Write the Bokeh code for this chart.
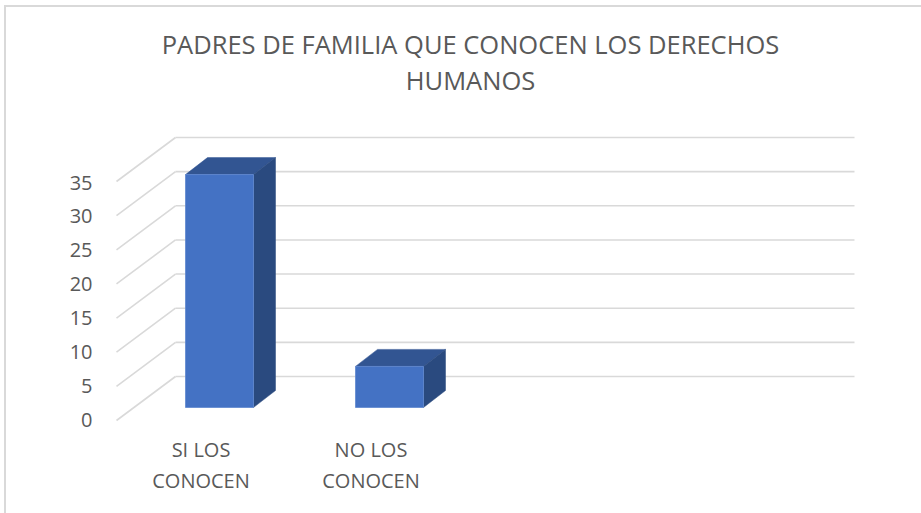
from bokeh.embed import file_html
from bokeh.resources import INLINE
from bokeh.plotting import figure
from bokeh.models import Range1d, LinearAxis, FixedTicker
from bokeh.core.properties import value

title_lines = ["PADRES DE FAMILIA QUE CONOCEN LOS DERECHOS", "HUMANOS"]
categories = ["SI LOS\nCONOCEN", "NO LOS\nCONOCEN"]
counts = [34, 6]
ticks = [0, 5, 10, 15, 20, 25, 30, 35]

W, H = 921, 513
LEFT = 100
SLOT = 170.0      # px per category
UNIT = 6.85       # px per value, bars and wall
X0 = 219.0        # px of the first bar's centre
Y0 = 407.0        # px of the bars' baseline

GRID, TEXT = "#D9D9D9", "#595959"
FRONT, TOP, SIDE = "#4472C4", "#325592", "#2A4A7F"
FONT = value("Open Sans")

def dx(px):
    return px / SLOT

def dy(px):
    return px / UNIT

p = figure(width=W, height=H, output_backend="svg", toolbar_location=None,
           x_range=Range1d((LEFT - X0) / SLOT, (W - X0) / SLOT),
           y_range=Range1d((Y0 - H) / UNIT, Y0 / UNIT),
           min_border_left=LEFT, min_border_right=0, min_border_top=0, min_border_bottom=0,
           x_axis_location=None, y_axis_location=None,
           outline_line_color=None, background_fill_color=None, border_fill_color=None)
p.xgrid.visible = False
p.ygrid.visible = False
# sits on the page's corner; the chart area's border is painted behind the canvas
p.styles = {
    "position": "absolute", "left": "0px", "top": "0px",
    "background": f"linear-gradient({GRID},{GRID}) 4px 5px/2px 100% no-repeat, "
                  f"linear-gradient({GRID},{GRID}) 4px 5px/100% 2px no-repeat",
}

# value axis on the front plane of the 3D box
p.extra_y_ranges["axis"] = Range1d((419 - H) / 6.77, 419 / 6.77)
axis = LinearAxis(y_range_name="axis", ticker=FixedTicker(ticks=ticks),
                  axis_line_color=None, major_tick_line_color=None, minor_tick_line_color=None,
                  major_label_text_font="Open Sans", major_label_text_font_size="20px",
                  major_label_text_color=TEXT, major_label_standoff=2)
p.add_layout(axis, "left")

# wall and floor gridlines
wall_x0 = dx(175 - X0)
wall_x1 = dx(854 - X0)
front_x = dx(116 - X0)
wall_off = dy(Y0 - 376)
depth = dy(44)
yw = [t * 239 / 35 / UNIT + wall_off for t in ticks]
p.segment(x0=[wall_x0] * len(ticks), y0=yw, x1=[wall_x1] * len(ticks), y1=yw,
          line_color=GRID, line_width=1.6)
p.segment(x0=[front_x] * len(ticks), y0=[y - depth for y in yw], x1=[wall_x0] * len(ticks), y1=yw,
          line_color=GRID, line_width=1.6)

# bars
half = dx(34)
bx, by = dx(22), dy(17)
for i, c in enumerate(counts):
    l, r = i - half, i + half
    p.patch([l, r, r + bx, l + bx], [c, c, c + by, c + by], fill_color=TOP, line_color=TOP, line_width=0.5)
    p.patch([r, r + bx, r + bx, r], [0, by, c + by, c], fill_color=SIDE, line_color=SIDE, line_width=0.5)
p.quad(left=[i - half for i in range(len(counts))], right=[i + half for i in range(len(counts))],
       bottom=[0] * len(counts), top=counts, fill_color=FRONT, line_color="#5F88CF", line_width=0.8)

# category labels
p.text(x=[i + dx(-18.5) for i in range(len(categories))], y=[dy(Y0 - 464.5)] * len(categories), text=categories,
       text_font=FONT, text_font_size="20px", text_color=TEXT,
       text_align="center", text_baseline="middle", text_line_height=1.15)

# title
p.text(x=[dx(470 - X0)] * 2, y=[dy(Y0 - 43.5), dy(Y0 - 79.5)], text=title_lines,
       text_font=FONT, text_font_size="25.5px", text_color=TEXT,
       text_align="center", text_baseline="middle")

open("out.html", "w").write(file_html(p, INLINE))
